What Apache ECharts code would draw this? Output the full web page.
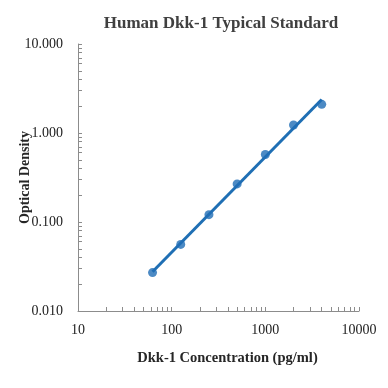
<!DOCTYPE html>
<html><head><meta charset="utf-8">
<script src="https://cdn.jsdelivr.net/npm/echarts@6/dist/echarts.min.js"></script>
<style>html,body{margin:0;padding:0;background:#fff}#c{width:388px;height:388px}</style>
</head><body><div id="c"></div>
<script>
const titleText = 'Human Dkk-1 Typical Standard';
const xAxisTitle = 'Dkk-1 Concentration (pg/ml)';
const yAxisTitle = 'Optical Density';
const concentrations = [62.5, 125, 250, 500, 1000, 2000, 4000];
const opticalDensity = [0.027, 0.056, 0.121, 0.268, 0.574, 1.23, 2.10];
const xTickValues = [10, 20, 30, 40, 50, 60, 70, 80, 90, 100, 200, 300, 400, 500, 600, 700, 800, 900, 1000, 2000, 3000, 4000, 5000, 6000, 7000, 8000, 9000, 10000];
const yTickValues = [0.01, 0.02, 0.03, 0.04, 0.05, 0.06, 0.07, 0.08, 0.09, 0.1, 0.2, 0.3, 0.4, 0.5, 0.6, 0.7, 0.8, 0.9, 1, 2, 3, 4, 5, 6, 7, 8, 9, 10];

// power trendline (least squares in log-log space), as a spreadsheet would draw it
const lx = concentrations.map(Math.log10), ly = opticalDensity.map(Math.log10);
const mx = lx.reduce((a,b)=>a+b)/lx.length, my = ly.reduce((a,b)=>a+b)/ly.length;
let sxy=0, sxx=0;
lx.forEach((v,i)=>{sxy+=(v-mx)*(ly[i]-my); sxx+=(v-mx)*(v-mx);});
const slope = sxy/sxx, icpt = my - slope*mx;
const xs = [concentrations[0], concentrations[concentrations.length-1]];
const trend = xs.map(x=>[x, Math.pow(10, icpt + slope*Math.log10(x))]);

const serif = '"Liberation Serif","Times New Roman",serif';
const axisColor = '#8c8c8c';
const chart = echarts.init(document.getElementById('c'));
chart.setOption({
  animation:false,
  title:{text:titleText,left:216,textAlign:'center',top:10,textStyle:{fontFamily:serif,fontWeight:'bold',fontSize:17,color:'#404040'}},
  grid:{left:78,right:29,top:44,bottom:77,outerBoundsMode:'none',containLabel:false},
  xAxis:{type:'log',logBase:10,min:10,max:10000,
    name:xAxisTitle,nameLocation:'middle',nameGap:40,nameMoveOverlap:false,
    nameTextStyle:{fontFamily:serif,fontWeight:'bold',fontSize:14.5,color:'#262626',padding:[0,0,0,18]},
    axisLine:{lineStyle:{color:axisColor,width:1}},
    axisTick:{inside:true,length:4,customValues:xTickValues,lineStyle:{color:axisColor}},
    axisLabel:{margin:12,fontFamily:serif,fontSize:14,color:'#222',formatter:v=>String(Math.round(v))},
    splitLine:{show:false}},
  yAxis:{type:'log',logBase:10,min:0.01,max:10,
    name:yAxisTitle,nameLocation:'middle',nameGap:46,nameRotate:90,nameMoveOverlap:false,
    nameTextStyle:{fontFamily:serif,fontWeight:'bold',fontSize:14,color:'#262626'},
    axisLine:{show:true,lineStyle:{color:axisColor,width:1}},
    axisTick:{show:true,inside:true,length:4,customValues:yTickValues,lineStyle:{color:axisColor}},
    axisLabel:{margin:15,fontFamily:serif,fontSize:14,color:'#222',formatter:v=>v.toFixed(3)},
    splitLine:{show:false}},
  series:[
    {type:'line',data:trend,showSymbol:false,symbol:'none',lineStyle:{color:'#1f6fb4',width:3},z:2},
    {type:'scatter',data:concentrations.map((x,i)=>[x,opticalDensity[i]]),symbol:'circle',symbolSize:9,itemStyle:{color:'#1f6db5'},z:3}
  ]
});
</script></body></html>
